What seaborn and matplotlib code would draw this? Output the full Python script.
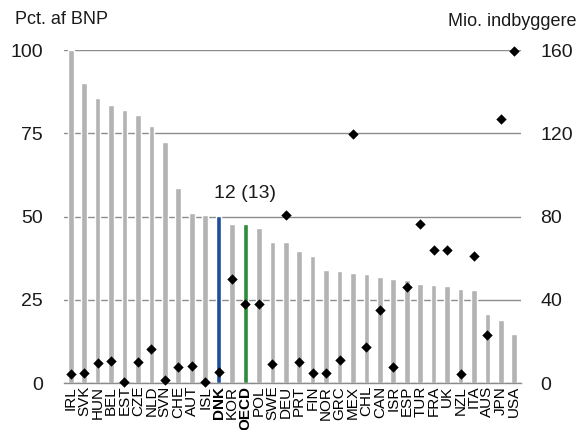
import numpy as np
import matplotlib
matplotlib.use("Agg")
import matplotlib.pyplot as plt
import seaborn as sns

# Data
countries = ["IRL", "SVK", "HUN", "BEL", "EST", "CZE", "NLD", "SVN", "CHE", "AUT",
             "ISL", "DNK", "KOR", "OECD", "POL", "SWE", "DEU", "PRT", "FIN", "NOR",
             "GRC", "MEX", "CHL", "CAN", "ISR", "ESP", "TUR", "FRA", "UK", "NZL",
             "ITA", "AUS", "JPN", "USA"]
pct_bnp = [100.0, 90.0, 85.5, 83.4, 82.1, 80.4, 77.1, 72.5, 58.5, 51.1,
           50.4, 50.1, 47.7, 47.7, 46.5, 42.4, 42.2, 39.6, 38.1, 33.8,
           33.7, 32.9, 32.8, 31.8, 31.2, 31.0, 29.7, 29.4, 29.1, 28.1,
           27.9, 20.7, 19.0, 14.8]
mio_indb = [4.2, 5.0, 9.4, 10.7, 0.6, 9.9, 16.5, 1.6, 7.5, 8.2,
            0.3, 5.1, 49.9, 37.8, 37.8, 9.1, 80.5, 10.1, 5.0, 4.6,
            10.9, 119.4, 17.3, 35.2, 7.7, 45.9, 76.5, 63.7, 63.7, 4.2,
            61.0, 23.0, 126.7, 159.5]
highlight = {"DNK": "#1f4e9c", "OECD": "#2e8b3a"}
annotation = "12 (13)"

sns.set_style("white")
plt.rcParams["font.family"] = ["Liberation Sans", "DejaVu Sans"]

fig = plt.figure(figsize=(5.78, 4.30), dpi=100)
ax = fig.add_axes([64 / 578, 1 - 383 / 430, 457 / 578, 333 / 430])

colors = [highlight.get(c, "#b3b3b3") for c in countries]
sns.barplot(x=countries, y=pct_bnp, hue=countries, palette=colors, legend=False,
            width=0.42, saturation=1, ax=ax, zorder=2)

ax.set_ylim(0, 100)
ax.set_xlim(-0.5, len(countries) - 0.5)
ax.set_yticks([0, 25, 50, 75, 100])
ax.yaxis.grid(True, color="#8c8c8c", linewidth=1)
ax.set_axisbelow(True)
for s in ["top", "right", "left"]:
    ax.spines[s].set_visible(False)
ax.spines["bottom"].set_color("#8c8c8c")
ax.spines["bottom"].set_linewidth(1)
ax.tick_params(axis="y", length=0, labelsize=14, colors="#1a1a1a", pad=15)
ax.tick_params(axis="x", which="major", length=0, labelsize=11, colors="#000000",
               pad=2, rotation=90)
ax.set_xticks(np.arange(-0.5, len(countries), 1), minor=True)
ax.tick_params(axis="x", which="minor", length=5, color="#8c8c8c", width=1)
for lbl in ax.get_xticklabels():
    if lbl.get_text() in highlight:
        lbl.set_fontweight("bold")
ax.set_xlabel("")
ax.set_ylabel("")

ax.text(countries.index("OECD"), 57, annotation, ha="center", va="center",
        fontsize=14, color="#1a1a1a")

ax2 = ax.twinx()
sns.scatterplot(x=np.arange(len(countries)), y=mio_indb, marker="D", color="black",
                s=28, linewidth=0, ax=ax2, zorder=3, clip_on=False)
ax2.set_ylim(0, 160)
ax2.set_yticks([0, 40, 80, 120, 160])
for s in ["top", "right", "left", "bottom"]:
    ax2.spines[s].set_visible(False)
ax2.tick_params(axis="y", length=0, labelsize=14, colors="#1a1a1a", pad=14)
ax2.set_ylabel("")

fig.text(15 / 578, 1 - 20 / 430, "Pct. af BNP", fontsize=13, color="#1a1a1a",
         ha="left", va="center")
fig.text(576 / 578, 1 - 21 / 430, "Mio. indbyggere", fontsize=13, color="#1a1a1a",
         ha="right", va="center")

fig.savefig("out.png", dpi=100)
plt.close(fig)
